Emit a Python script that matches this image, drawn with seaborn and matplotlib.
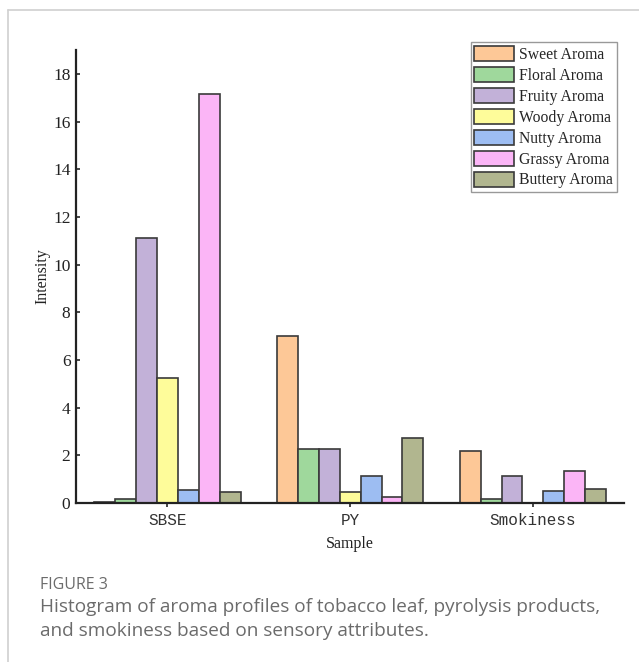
import matplotlib
matplotlib.use("Agg")
import matplotlib.pyplot as plt
import matplotlib.patches as mpatches
from matplotlib.lines import Line2D
import seaborn as sns
import pandas as pd

samples = ["SBSE", "PY", "Smokiness"]
aromas = ["Sweet Aroma", "Floral Aroma", "Fruity Aroma", "Woody Aroma",
          "Nutty Aroma", "Grassy Aroma", "Buttery Aroma"]
sbse = [0.05, 0.18, 11.12, 5.25, 0.55, 17.15, 0.48]
py = [7.02, 2.26, 2.26, 0.48, 1.15, 0.27, 2.72]
smokiness = [2.2, 0.18, 1.12, 0.0, 0.5, 1.33, 0.59]
colors = ["#FDC897", "#9FD89C", "#C2B1D8", "#FEFC9A", "#9DBDF2", "#FBB5F6", "#B1B68F"]

rows = []
for s, vals in zip(samples, [sbse, py, smokiness]):
    for a, v in zip(aromas, vals):
        rows.append({"Sample": s, "Aroma": a, "Intensity": v})
df = pd.DataFrame(rows)

sns.set_style("white")
plt.rcParams["font.family"] = ["Liberation Serif", "DejaVu Serif"]

fig = plt.figure(figsize=(6.39, 6.62), dpi=100)
ax = fig.add_axes([0.119, 0.2402, 0.858, 0.6843])

sns.barplot(data=df, x="Sample", y="Intensity", hue="Aroma", order=samples,
            hue_order=aromas, palette=colors, width=0.8, edgecolor="#3a3a3a",
            linewidth=1.2, saturation=1, ax=ax, legend=False)

ax.set_xlim(-0.5, 2.5)
ax.set_ylim(0, 19)
ax.set_yticks(range(0, 19, 2))
ax.set_xticks(range(3))
ax.set_xticklabels(samples, family=["Liberation Mono", "DejaVu Sans Mono"], fontsize=11.5,
                   color="#333333")
for lbl in ax.get_yticklabels():
    lbl.set_fontsize(12.5)
    lbl.set_color("#222222")
ax.tick_params(axis="y", direction="in", length=3, width=1.2, left=True, pad=4)
ax.tick_params(axis="x", direction="out", length=3, width=1.2, bottom=True, pad=4)
for side in ["top", "right"]:
    ax.spines[side].set_visible(False)
for side in ["left", "bottom"]:
    ax.spines[side].set_color("#222222")
    ax.spines[side].set_linewidth(1.6)
ax.set_xlabel("Sample", fontsize=11.5, color="#222222", labelpad=6)
ax.set_ylabel("Intensity", fontsize=11.5, color="#222222")
ax.yaxis.set_label_coords(-0.046, 0.5)

handles = [mpatches.Patch(facecolor=c, edgecolor="#3a3a3a", linewidth=1.2) for c in colors]
leg = fig.legend(handles, aromas, loc="upper right",
                 bbox_to_anchor=(617 / 639, 1 - 42 / 662),
                 fontsize=11.3, frameon=True, fancybox=False, framealpha=1,
                 edgecolor="#999999", handlelength=2.5, handleheight=1.1,
                 labelspacing=0.26, handletextpad=0.35, borderpad=0.25,
                 borderaxespad=0.0)
leg.get_frame().set_linewidth(1.0)

# card border around the figure
fig.add_artist(Line2D([8 / 639, 1.0], [1 - 10 / 662, 1 - 10 / 662],
                      transform=fig.transFigure, color="#d0d0d0", lw=1.2))
fig.add_artist(Line2D([8 / 639, 8 / 639], [0.0, 1 - 10 / 662],
                      transform=fig.transFigure, color="#d0d0d0", lw=1.2))

cap_font = ["Open Sans", "DejaVu Sans"]
fig.text(40 / 639, 1 - 585 / 662, "FIGURE 3", family=cap_font, fontsize=11.5,
         color="#6b6b6b", va="center", ha="left")
fig.text(40 / 639, 1 - 607 / 662,
         "Histogram of aroma profiles of tobacco leaf, pyrolysis products,",
         family=cap_font, fontsize=13.7, color="#6b6b6b", va="center", ha="left")
fig.text(40 / 639, 1 - 631 / 662,
         "and smokiness based on sensory attributes.",
         family=cap_font, fontsize=13.7, color="#6b6b6b", va="center", ha="left")

fig.savefig("out.png", dpi=100)
